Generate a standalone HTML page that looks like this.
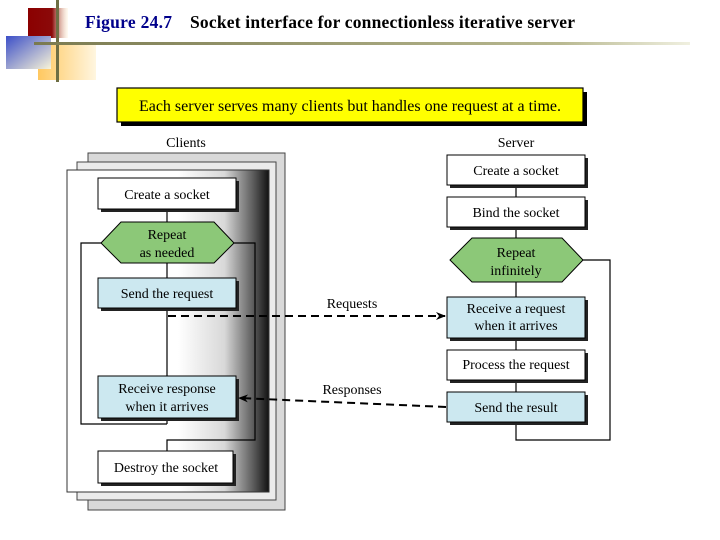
<!DOCTYPE html>
<html><head><meta charset="utf-8"><style>
html,body{margin:0;padding:0;background:#fff;}
svg{display:block;}
text{font-family:"Liberation Serif",serif;}
</style></head><body>
<svg width="720" height="540" viewBox="0 0 720 540" xmlns="http://www.w3.org/2000/svg">
<defs>
<linearGradient id="red" x1="0" x2="1" y1="0" y2="0"><stop offset="0" stop-color="#8b0000"/><stop offset="0.6" stop-color="#8b0a0a"/><stop offset="1" stop-color="#fff0d0" stop-opacity="0.3"/></linearGradient>
<linearGradient id="blue" x1="0" x2="1" y1="0" y2="1"><stop offset="0" stop-color="#3c4fc8"/><stop offset="1" stop-color="#f8f4d8"/></linearGradient>
<linearGradient id="org" x1="0" x2="1" y1="0" y2="0"><stop offset="0" stop-color="#ffc860"/><stop offset="1" stop-color="#fff6e0"/></linearGradient>
<linearGradient id="shade" x1="0" x2="1" y1="0" y2="0"><stop offset="0" stop-color="#fff"/><stop offset="0.55" stop-color="#fff"/><stop offset="0.78" stop-color="#d8d8d8"/><stop offset="0.93" stop-color="#555"/><stop offset="1" stop-color="#111"/></linearGradient>
<linearGradient id="hline" x1="0" x2="1"><stop offset="0" stop-color="#7a7a50"/><stop offset="0.8" stop-color="#b8b890"/><stop offset="1" stop-color="#f0f0e0"/></linearGradient>
<marker id="ah" markerWidth="10" markerHeight="8" refX="9" refY="4" orient="auto" markerUnits="userSpaceOnUse"><path d="M0,0 L10,4 L0,8 L3,4 z" fill="#000"/></marker>
</defs>
<rect x="38" y="45" width="58" height="35" fill="url(#org)"/>
<rect x="28" y="8" width="40" height="30" fill="url(#red)"/>
<rect x="6" y="36" width="45" height="33" fill="url(#blue)"/>
<rect x="56" y="0" width="3" height="82" fill="#6e6e44"/>
<rect x="34" y="42" width="656" height="3" fill="url(#hline)"/>
<text x="85" y="28" font-size="17.5" font-weight="bold" fill="#00008b" textLength="87">Figure 24.7</text>
<text x="190" y="28" font-size="17.5" font-weight="bold" fill="#000" textLength="385">Socket interface for connectionless iterative server</text>
<rect x="121" y="92" width="466" height="34" fill="#000"/>
<rect x="117" y="88" width="466" height="34" fill="#ffff00" stroke="#000" stroke-width="1.2"/>
<text x="350" y="111" font-size="16" text-anchor="middle">Each server serves many clients but handles one request at a time.</text>
<text x="186" y="147" font-size="14" text-anchor="middle" font-family="Liberation Sans">Clients</text>
<rect x="88" y="153" width="197" height="357" fill="#d9d9d9" stroke="#444"/>
<rect x="77" y="162" width="199" height="338" fill="#ebebeb" stroke="#444"/>
<rect x="67" y="170" width="202" height="322" fill="url(#shade)" stroke="#333"/>
<g stroke="#000" stroke-width="1.2" fill="none">
<line x1="167" y1="209" x2="167" y2="424"/>
<polyline points="101,243 81,243 81,424 167,424"/>
<polyline points="234,243 255,243 255,440 167,440 167,451"/>
</g>
<g font-size="14" text-anchor="middle">
<rect x="101" y="181" width="138" height="31" fill="#222"/>
<rect x="98" y="178" width="138" height="31" fill="#fff" stroke="#000"/>
<text x="167" y="199">Create a socket</text>
<polygon points="101,243 121,222 214,222 234,243 214,263 121,263" fill="#8cc878" stroke="#000"/>
<text x="167" y="239">Repeat</text><text x="167" y="257">as needed</text>
<rect x="101" y="281" width="138" height="30" fill="#222"/>
<rect x="98" y="278" width="138" height="30" fill="#cce8f0" stroke="#000"/>
<text x="167" y="298">Send the request</text>
<rect x="101" y="379" width="138" height="42" fill="#222"/>
<rect x="98" y="376" width="138" height="42" fill="#cce8f0" stroke="#000"/>
<text x="167" y="393">Receive response</text><text x="167" y="411">when it arrives</text>
<rect x="101" y="454" width="135" height="32" fill="#222"/>
<rect x="98" y="451" width="135" height="32" fill="#fff" stroke="#000"/>
<text x="166" y="472">Destroy the socket</text>
</g>
<text x="516" y="147" font-size="14" text-anchor="middle" font-family="Liberation Sans">Server</text>
<g stroke="#000" stroke-width="1.2" fill="none">
<line x1="516" y1="185" x2="516" y2="422"/>
<polyline points="583,260 610,260 610,440 516,440 516,422"/>
</g>
<g font-size="14" text-anchor="middle">
<rect x="450" y="158" width="138" height="30" fill="#222"/>
<rect x="447" y="155" width="138" height="30" fill="#fff" stroke="#000"/>
<text x="516" y="175">Create a socket</text>
<rect x="450" y="200" width="138" height="30" fill="#222"/>
<rect x="447" y="197" width="138" height="30" fill="#fff" stroke="#000"/>
<text x="516" y="217">Bind the socket</text>
<polygon points="450,260 472,238 562,238 583,260 562,282 472,282" fill="#8cc878" stroke="#000"/>
<text x="516" y="257">Repeat</text><text x="516" y="275">infinitely</text>
<rect x="450" y="300" width="138" height="41" fill="#222"/>
<rect x="447" y="297" width="138" height="41" fill="#cce8f0" stroke="#000"/>
<text x="516" y="313">Receive a request</text><text x="516" y="330">when it arrives</text>
<rect x="450" y="353" width="138" height="30" fill="#222"/>
<rect x="447" y="350" width="138" height="30" fill="#fff" stroke="#000"/>
<text x="516" y="369">Process the request</text>
<rect x="450" y="395" width="138" height="30" fill="#222"/>
<rect x="447" y="392" width="138" height="30" fill="#cce8f0" stroke="#000"/>
<text x="516" y="412">Send the result</text>
</g>
<line x1="168" y1="316" x2="445" y2="316" stroke="#000" stroke-width="2" stroke-dasharray="8,5" marker-end="url(#ah)"/>
<line x1="446" y1="407" x2="239" y2="398" stroke="#000" stroke-width="2" stroke-dasharray="8,5" marker-end="url(#ah)"/>
<text x="352" y="308" font-size="14" text-anchor="middle">Requests</text>
<text x="352" y="394" font-size="14" text-anchor="middle">Responses</text>
</svg>
</body></html>
